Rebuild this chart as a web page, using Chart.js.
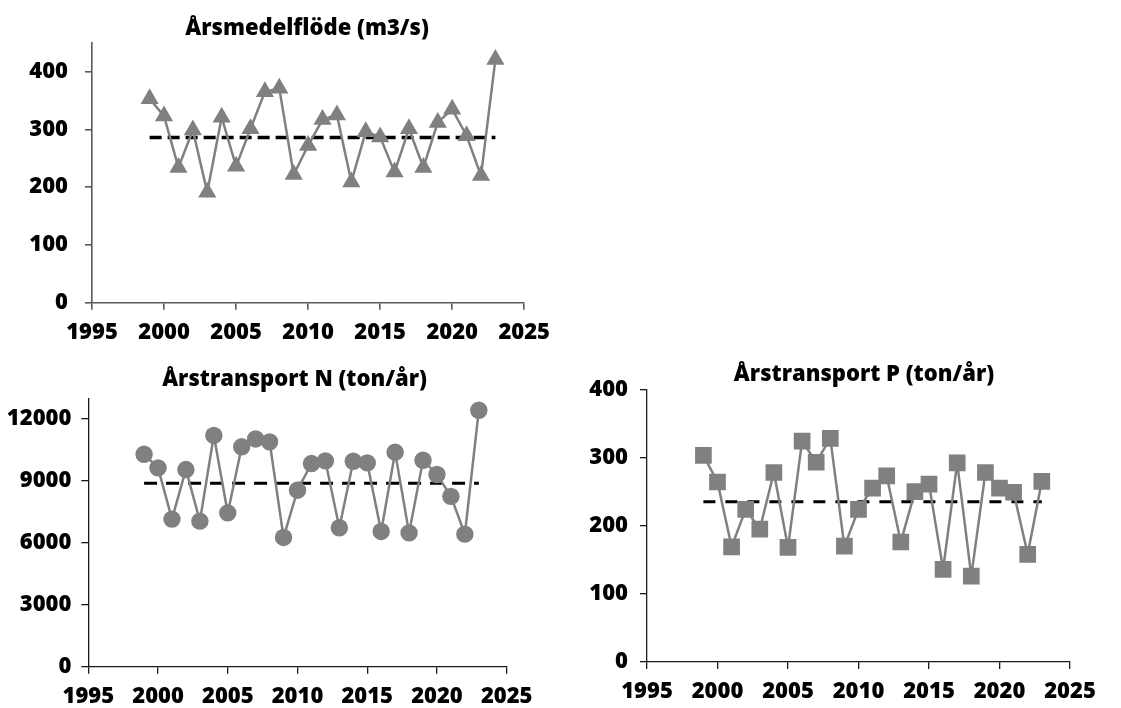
<!DOCTYPE html>
<html>
<head>
<meta charset="utf-8">
<script src="https://cdn.jsdelivr.net/npm/chart.js@4.4.1/dist/chart.umd.min.js"></script>
<style>
  html, body { margin: 0; padding: 0; background: #fff; }
  body { width: 1121px; height: 708px; position: relative; overflow: hidden; }
  .box { position: absolute; }
</style>
</head>
<body>
<div class="box" style="left:0;top:0;width:560px;height:360px;"><canvas id="c1"></canvas></div>
<div class="box" style="left:0;top:360px;width:560px;height:348px;"><canvas id="c2"></canvas></div>
<div class="box" style="left:560px;top:360px;width:561px;height:348px;"><canvas id="c3"></canvas></div>
<script>
// ---- data ----
const years = [1999,2000,2001,2002,2003,2004,2005,2006,2007,2008,2009,2010,2011,2012,2013,2014,2015,2016,2017,2018,2019,2020,2021,2022,2023];
const flowValues = [353,323,234,299,191,321,236,301,365,371,222,272,317,325,209,296,287,226,301,234,312,335,289,220,421];
const flowMean = 286;
const nValues = [10290,9630,7150,9550,7050,11200,7450,10650,11030,10890,6260,8550,9840,9970,6730,9950,9870,6550,10390,6480,10000,9310,8250,6420,12420];
const nMean = 8890;
const pValues = [303,264,169,224,195,278,168,324,293,328,170,224,255,273,176,250,261,136,292,126,278,255,249,158,265];
const pMean = 235;
const xTicks = [1995,2000,2005,2010,2015,2020,2025];
const flowTicks = [0,100,200,300,400];
const nTicks = [0,3000,6000,9000,12000];
const pTicks = [0,100,200,300,400];
const titles = ['Årsmedelflöde (m3/s)', 'Årstransport N (ton/år)', 'Årstransport P (ton/år)'];

const FONT = '"Open Sans", "Noto Sans", sans-serif';
const WEIGHT = '800';
const GRAY = '#808080';

const titlePlugin = {
  id: 'fixedTitle',
  afterDraw(chart, args, opts) {
    const ctx = chart.ctx;
    ctx.save();
    ctx.font = WEIGHT + ' ' + opts.size + 'px ' + FONT;
    ctx.fillStyle = '#000';
    ctx.textAlign = 'center';
    ctx.textBaseline = 'middle';
    ctx.fillText(opts.text, opts.x, opts.y);
    ctx.restore();
  }
};

function pts(vals) { return years.map((y, i) => ({x: y, y: vals[i]})); }
function meanPts(m) { return [{x: years[0], y: m}, {x: years[years.length - 1], y: m}]; }

function makeChart(id, cfg) {
  new Chart(document.getElementById(id), {
    type: 'line',
    data: {
      datasets: [
        {
          data: meanPts(cfg.mean),
          borderColor: '#000',
          borderWidth: cfg.meanWidth,
          borderDash: cfg.dash,
          borderCapStyle: 'butt',
          pointRadius: 0,
          order: 2
        },
        {
          data: pts(cfg.values),
          borderColor: GRAY,
          borderWidth: 2.5,
          backgroundColor: GRAY,
          pointStyle: cfg.pointStyle,
          pointRadius: cfg.pointRadius,
          pointBorderWidth: 0,
          pointBackgroundColor: GRAY,
          tension: 0,
          order: 1
        }
      ]
    },
    options: {
      responsive: true,
      maintainAspectRatio: false,
      animation: false,
      events: [],
      layout: { padding: cfg.padding },
      plugins: {
        legend: { display: false },
        tooltip: { enabled: false },
        title: { display: false },
        fixedTitle: { text: cfg.title, x: cfg.titleX, y: cfg.titleY, size: 22 }
      },
      scales: {
        x: {
          type: 'linear',
          min: 1995, max: 2025,
          afterBuildTicks(scale) { scale.ticks = xTicks.map(v => ({value: v})); },
          afterFit(scale) { scale.height = 40; },
          ticks: {
            callback: v => String(v),
            font: { family: FONT, size: 22, weight: WEIGHT },
            color: '#000',
            padding: cfg.xPad,
            maxRotation: 0
          },
          grid: { display: true, drawOnChartArea: false, drawTicks: true, tickLength: 7, color: cfg.axisColor, lineWidth: cfg.axisWidth },
          border: { display: true, color: cfg.axisColor, width: cfg.axisWidth }
        },
        y: {
          type: 'linear',
          min: 0, max: cfg.yMax,
          afterBuildTicks(scale) { scale.ticks = cfg.yTicks.map(v => ({value: v})); },
          afterFit(scale) { scale.width = cfg.yWidth; },
          ticks: {
            callback: v => String(v),
            font: { family: FONT, size: 22, weight: WEIGHT },
            color: '#000',
            padding: cfg.yPad
          },
          grid: { display: true, drawOnChartArea: false, drawTicks: true, tickLength: 7, color: cfg.axisColor, lineWidth: cfg.axisWidth },
          border: { display: true, color: cfg.axisColor, width: cfg.axisWidth }
        }
      }
    },
    plugins: [titlePlugin]
  });
}

makeChart('c1', {
  values: flowValues, mean: flowMean, title: titles[0], titleX: 307, titleY: 29,
  pointStyle: 'triangle', pointRadius: 10.5, dash: [12, 6], meanWidth: 3.5,
  yMax: 450, yTicks: flowTicks, yWidth: 92, yPad: 17, xPad: 10,
  padding: { left: 0, right: 32.7, top: 42.7, bottom: 17.3 },
  axisColor: '#595959', axisWidth: 1.6
});
makeChart('c2', {
  values: nValues, mean: nMean, title: titles[1], titleX: 294.5, titleY: 20,
  pointStyle: 'circle', pointRadius: 8.7, dash: [13, 9], meanWidth: 3,
  yMax: 13000, yTicks: nTicks, yWidth: 88.3, yPad: 10, xPad: 10,
  padding: { left: 0, right: 53.3, top: 38.3, bottom: 1.3 },
  axisColor: '#1a1a1a', axisWidth: 1.3
});
makeChart('c3', {
  values: pValues, mean: pMean, title: titles[2], titleX: 304, titleY: 15,
  pointStyle: 'rect', pointRadius: 11.8, dash: [12, 10], meanWidth: 3,
  yMax: 400, yTicks: pTicks, yWidth: 87, yPad: 12, xPad: 10,
  padding: { left: 0, right: 51, top: 29.3, bottom: 6 },
  axisColor: '#1a1a1a', axisWidth: 1.3
});
</script>
</body>
</html>
